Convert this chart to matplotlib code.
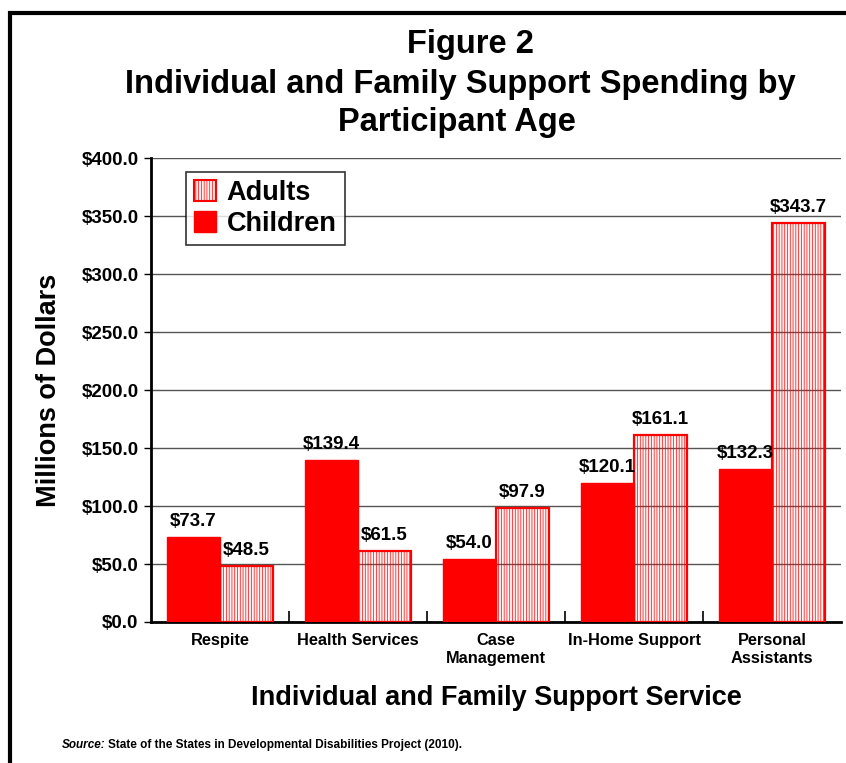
import matplotlib
matplotlib.use('Agg')
import matplotlib.pyplot as plt
from matplotlib.patches import Rectangle, Patch
import numpy as np

# chart data
categories = ['Respite', 'Health Services', 'Case\nManagement', 'In-Home Support', 'Personal\nAssistants']
children = [73.7, 139.4, 54.0, 120.1, 132.3]
adults = [48.5, 61.5, 97.9, 161.1, 343.7]
yticks = [0, 50, 100, 150, 200, 250, 300, 350, 400]
title_lines = ['Figure 2', 'Individual and Family Support Spending by', 'Participant Age']

plt.rcParams['font.family'] = ['Liberation Sans', 'DejaVu Sans']
plt.rcParams['font.weight'] = 'bold'
plt.rcParams['hatch.color'] = '#fde2e2'
plt.rcParams['hatch.linewidth'] = 0.5

fig = plt.figure(figsize=(8.46, 7.63), dpi=100)
ax = fig.add_axes([0.1785, 0.1848, 0.8155, 0.6081])

x = np.arange(len(categories))
w = 0.384
ax.bar(x - w / 2, children, w, color='#ff0000', edgecolor='#ff0000', linewidth=1, zorder=3)
ax.bar(x + w / 2, adults, w, facecolor=(1, 0, 0, 0.05), edgecolor='#ff0000',
       linewidth=1.6, hatch='||||||', zorder=3)

for xi, v in zip(x - w / 2, children):
    ax.text(xi, v + 6, f'${v:.1f}', ha='center', va='bottom', fontsize=13.5, fontweight='bold', zorder=5)
for xi, v in zip(x + w / 2, adults):
    ax.text(xi, v + 6, f'${v:.1f}', ha='center', va='bottom', fontsize=13.5, fontweight='bold', zorder=5)

ax.set_xlim(-0.5, len(categories) - 0.5)
ax.set_ylim(0, 400)
ax.set_yticks(yticks)
ax.set_yticklabels([f'${t:.1f}' for t in yticks], fontsize=13.5, fontweight='bold')
ax.yaxis.grid(True, color='#555555', linewidth=1, zorder=0)
ax.set_axisbelow(True)
ax.tick_params(axis='y', length=5, width=1, pad=4)

# boundary ticks between categories, labels at centres
ax.set_xticks(np.arange(0.5, len(categories) - 0.5, 1))
ax.set_xticklabels([])
ax.tick_params(axis='x', which='major', direction='in', length=8, width=1.2)
ax.set_xticks(x, minor=True)
ax.set_xticklabels(categories, minor=True, fontsize=11.8, fontweight='bold', linespacing=1.2)
ax.tick_params(axis='x', which='minor', length=0, pad=8)

for s in ['top', 'right']:
    ax.spines[s].set_visible(False)
ax.spines['left'].set_linewidth(2)
ax.spines['bottom'].set_linewidth(2)

ax.set_ylabel('Millions of Dollars', fontsize=19.5, fontweight='bold', labelpad=14)
ax.set_xlabel('Individual and Family Support Service', fontsize=19.5, fontweight='bold', labelpad=14)

handles = [Patch(facecolor='#ffeeee', edgecolor='#ff0000', linewidth=1.5, hatch='||||||'),
           Patch(facecolor='#ff0000', edgecolor='#ff0000')]
leg = ax.legend(handles, ['Adults', 'Children'], loc='upper left', bbox_to_anchor=(0.051, 0.970),
                prop={'size': 19.5, 'weight': 'bold'}, frameon=True, fancybox=False,
                edgecolor='black', handlelength=0.8, handleheight=0.8, handletextpad=0.4,
                labelspacing=0.18, borderpad=0.3, borderaxespad=0)
leg.get_frame().set_linewidth(1.2)
leg.set_zorder(6)

for line, xpx, ypx in zip(title_lines, [470, 460, 457], [45, 85, 122]):
    fig.text(xpx / 846, 1 - ypx / 763, line, ha='center', va='center', fontsize=23.5, fontweight='bold')

src_family = ['Liberation Sans Narrow', 'Liberation Sans', 'DejaVu Sans']
fig.text(62 / 846, 1 - 745 / 763, 'Source:', fontsize=8.5, fontstyle='italic', fontweight='bold',
         va='center', ha='left', family=src_family)
fig.text(108 / 846, 1 - 745 / 763, 'State of the States in Developmental Disabilities Project (2010).',
         fontsize=8.5, fontweight='bold', va='center', ha='left', family=src_family)

# outer frame
fig.patches.append(Rectangle((10 / 846, -0.05), 1.0, 1 - 13 / 763 + 0.05, transform=fig.transFigure,
                             fill=False, edgecolor='black', linewidth=3))

fig.savefig('out.png', dpi=100)
